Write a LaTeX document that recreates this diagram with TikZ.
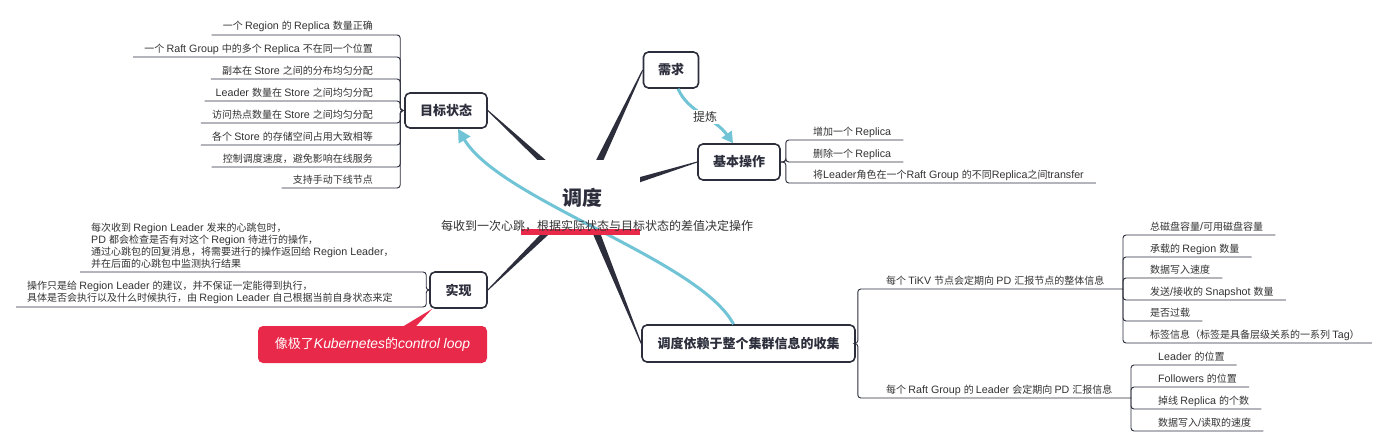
\documentclass[tikz,border=0pt]{standalone}
\usepackage{fontspec}
\setmainfont{Liberation Sans}[Scale=1.07]
\newfontfamily\cjkfont{Noto Sans CJK SC}
\XeTeXinterchartokenstate=1
\newXeTeXintercharclass\cjkclass
\newcount\cjkc
\cjkc="3000 \loop \XeTeXcharclass\cjkc=\cjkclass \advance\cjkc 1 \ifnum\cjkc<"3040 \repeat
\cjkc="4E00 \loop \XeTeXcharclass\cjkc=\cjkclass \advance\cjkc 1 \ifnum\cjkc<"A000 \repeat
\cjkc="FF00 \loop \XeTeXcharclass\cjkc=\cjkclass \advance\cjkc 1 \ifnum\cjkc<"FFF0 \repeat
\XeTeXinterchartoks 0 \cjkclass = {\cjkfont}
\XeTeXinterchartoks 4095 \cjkclass = {\cjkfont}
\XeTeXinterchartoks \cjkclass 0 = {\rmfamily}
\XeTeXinterchartoks 4095 0 = {\rmfamily}
\usetikzlibrary{arrows.meta,calc,backgrounds}
\definecolor{dk}{RGB}{44,46,60}
\definecolor{bl}{RGB}{113,196,214}
\definecolor{rd}{RGB}{233,41,74}
\definecolor{tx}{RGB}{51,51,51}
\newcommand\taperbranch[3]{%
  \fill[dk] ($(#1)!#3!90:(#2)$) -- ($(#2)!0.5pt!-90:(#1)$) -- ($(#2)!0.5pt!90:(#1)$) -- ($(#1)!#3!-90:(#2)$) -- cycle;}
\tikzset{
  topic/.style={draw=dk, line width=1.6pt, rounded corners=5pt, fill=white,
    font=\fontsize{13}{15}\selectfont\bfseries, text=dk, inner sep=0pt},
  lbl/.style={font=\fontsize{10}{12}\selectfont, text=tx, inner sep=0pt},
  mlbl/.style={lbl, align=left},
  br/.style={draw=dk, line width=0.9pt, rounded corners=3pt},
  flow/.style={draw=bl, line width=3pt, -{Triangle[length=13pt,width=13pt]}},
}
\begin{document}
\begin{tikzpicture}[x=1pt,y=-1pt]
\useasboundingbox (0,0) rectangle (1393,447);

% topics
\node[topic, minimum width=82pt, minimum height=35pt] (goal) at (446,110.5) {目标状态};
\node[topic, minimum width=55pt, minimum height=36pt] (req) at (671,70) {需求};
\node[topic, minimum width=82pt, minimum height=36pt] (basic) at (739,162) {基本操作};
\node[topic, minimum width=57pt, minimum height=36pt] (impl) at (458.5,290) {实现};
\node[topic, minimum width=213pt, minimum height=37pt] (collect) at (748.5,343.5) {调度依赖于整个集群信息的收集};
\node[fill=white, minimum width=116pt, minimum height=75pt, inner sep=0pt,
  font=\fontsize{20}{24}\selectfont\bfseries, text=dk] (ctr) at (582,197.5) {调度};

\begin{pgfonlayer}{background}
  \fill[white] (0,0) rectangle (1393,447);
  \taperbranch{ctr.center}{goal.east}{4.5pt}
  \taperbranch{ctr.center}{req.west}{4.5pt}
  \taperbranch{ctr.center}{basic.west}{4.5pt}
  \taperbranch{ctr.center}{impl.east}{4.5pt}
  \taperbranch{ctr.center}{collect.west}{4.5pt}
\end{pgfonlayer}

% goal list
\node[lbl, anchor=base east] (g1) at (373,30) {一个 Region 的 Replica 数量正确};
\node[lbl, anchor=base east] (g2) at (373,52) {一个 Raft Group 中的多个 Replica 不在同一个位置};
\node[lbl, anchor=base east] (g3) at (373,74) {副本在 Store 之间的分布均匀分配};
\node[lbl, anchor=base east] (g4) at (373,96) {Leader 数量在 Store 之间均匀分配};
\node[lbl, anchor=base east] (g5) at (373,118) {访问热点数量在 Store 之间均匀分配};
\node[lbl, anchor=base east] (g6) at (373,140) {各个 Store 的存储空间占用大致相等};
\node[lbl, anchor=base east] (g7) at (373,162) {控制调度速度，避免影响在线服务};
\node[lbl, anchor=base east] (g8) at (373,183) {支持手动下线节点};
\foreach \n in {g1,g2,g3,g4,g5,g6,g7,g8}
  \draw[br] (goal.west) -- ++(-4,0) |- ([xshift=-11pt,yshift=-5pt]\n.base west);

% basic list
\node[lbl, anchor=base west] (b1) at (813,135) {增加一个 Replica};
\node[lbl, anchor=base west] (b2) at (813,157) {删除一个 Replica};
\node[lbl, anchor=base west] (b3) at (813,178) {将Leader角色在一个Raft Group 的不同Replica之间transfer};
\foreach \n in {b1,b2,b3}
  \draw[br] (basic.east) -- ++(5,0) |- ([xshift=12pt,yshift=-5pt]\n.base east);

% impl list
\node[mlbl, anchor=south west] (i1) at (91,268.5) {每次收到 Region Leader 发来的心跳包时，\\PD 都会检查是否有对这个 Region 待进行的操作，\\通过心跳包的回复消息，将需要进行的操作返回给 Region Leader，\\并在后面的心跳包中监测执行结果};
\node[mlbl, anchor=south west] (i2) at (27,303.5) {操作只是给 Region Leader 的建议，并不保证一定能得到执行，\\具体是否会执行以及什么时候执行，由 Region Leader 自己根据当前自身状态来定};
\foreach \n in {i1,i2}
  \draw[br] (impl.west) -- ++(-3,0) |- ([xshift=-11pt,yshift=-3.5pt]\n.south west);

% collect groups
\node[lbl, anchor=base west] (tk) at (886,284) {每个 TiKV 节点会定期向 PD 汇报节点的整体信息};
\node[lbl, anchor=base west] (rg) at (886,393) {每个 Raft Group 的 Leader 会定期向 PD 汇报信息};
\coordinate (tkj) at (1123,289);
\coordinate (rgj) at (1131,398);
\draw[br] (collect.east) -- ++(2,0) |- (tkj);
\draw[br] (collect.east) -- ++(2,0) |- (rgj);

\node[lbl, anchor=base west] (t1) at (1150,230) {总磁盘容量/可用磁盘容量};
\node[lbl, anchor=base west] (t2) at (1150,252) {承载的 Region 数量};
\node[lbl, anchor=base west] (t3) at (1150,273) {数据写入速度};
\node[lbl, anchor=base west] (t4) at (1150,295) {发送/接收的 Snapshot 数量};
\node[lbl, anchor=base west] (t5) at (1150,316) {是否过载};
\node[lbl, anchor=base west] (t6) at (1150,338) {标签信息（标签是具备层级关系的一系列 Tag）};
\foreach \n in {t1,t2,t3,t4,t5,t6}
  \draw[br] (tkj) |- ([xshift=12pt,yshift=-5pt]\n.base east);

\node[lbl, anchor=base west] (r1) at (1158,360) {Leader 的位置};
\node[lbl, anchor=base west] (r2) at (1158,382) {Followers 的位置};
\node[lbl, anchor=base west] (r3) at (1158,404) {掉线 Replica 的个数};
\node[lbl, anchor=base west] (r4) at (1158,426) {数据写入/读取的速度};
\foreach \n in {r1,r2,r3,r4}
  \draw[br] (rgj) |- ([xshift=12pt,yshift=-5pt]\n.base east);

% blue flow arrows
\draw[flow] ([xshift=-15pt]collect.north) .. controls (700,260) and (500,200) .. ([xshift=12pt]goal.south);
\draw[flow, -{Triangle[length=11pt,width=12pt]}] ([xshift=7pt]req.south) .. controls (688,112) and (715,118) .. ([xshift=-6pt]basic.north);
\node[fill=white, inner sep=1.5pt, font=\fontsize{12}{14}\selectfont, text=tx] (tl) at (705,117) {提炼};

% red highlight and subtitle
\fill[rd] (521,229) rectangle (640,235);
\node[font=\fontsize{12}{14}\selectfont, text=tx, inner sep=0pt] (sub) at (597,226) {每收到一次心跳，根据实际状态与目标状态的差值决定操作};

% callout
\node[fill=rd, rounded corners=5pt, minimum width=229pt, minimum height=37pt, inner sep=0pt,
  text=white, font=\fontsize{13}{15}\selectfont] (kb) at (372.5,344.5)
  {像极了{\itshape Kubernetes}的{\itshape control loop}};
\fill[rd] ([xshift=30pt,yshift=-1pt]kb.north) -- ([xshift=3pt]impl.south west) -- ([xshift=43pt,yshift=-1pt]kb.north) -- cycle;
\end{tikzpicture}
\end{document}
